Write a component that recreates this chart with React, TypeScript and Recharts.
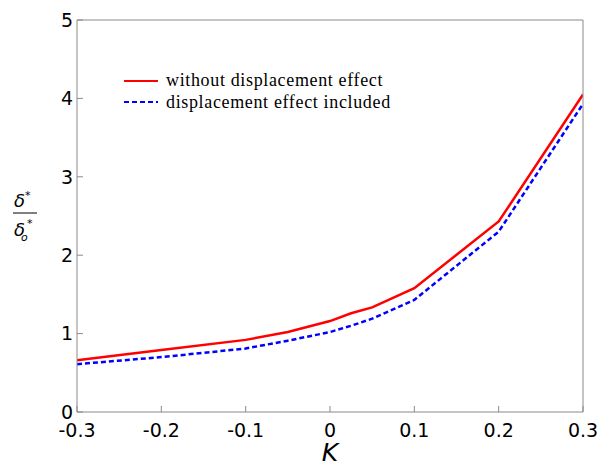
import { LineChart, Line, XAxis, YAxis } from 'recharts';

// K values along the bottom axis
const kValues = [-0.3, -0.2, -0.1, -0.05, 0, 0.025, 0.05, 0.1, 0.2, 0.3];
// delta*/delta_o*
const withoutDisplacement = [0.66, 0.79, 0.92, 1.02, 1.16, 1.26, 1.335, 1.58, 2.43, 4.05];
const displacementIncluded = [0.61, 0.7, 0.81, 0.91, 1.02, 1.1, 1.19, 1.43, 2.3, 3.93];

const xTicks = [-0.3, -0.2, -0.1, 0, 0.1, 0.2, 0.3];
const yTicks = [0, 1, 2, 3, 4, 5];

const seriesNames = ['without displacement effect', 'displacement effect included'];
const seriesColors = ['#ff0000', '#0000ff'];
const seriesDash = ['', '5 3'];

const AXIS = '#8a8a8a';
const TICK_FONT = { fill: '#000', fontSize: 19, fontFamily: 'DejaVu Sans' };

const data = kValues.map((k, i) => ({
  k,
  without: withoutDisplacement[i],
  included: displacementIncluded[i],
}));

function YFraction({ viewBox }: any) {
  const cx = viewBox.x + 8;
  const cy = viewBox.y + viewBox.height / 2 - 3;
  const font = { fontFamily: 'DejaVu Sans', fontStyle: 'italic' as const, fill: '#000' };
  return (
    <g>
      <text x={cx - 11} y={cy - 6} fontSize={18} {...font}>
        δ<tspan fontSize={11} dy={-8}>*</tspan>
      </text>
      <line x1={cx - 12} x2={cx + 12} y1={cy} y2={cy} stroke="#000" strokeWidth={1} />
      <text x={cx - 11} y={cy + 23} fontSize={18} {...font}>
        δ
      </text>
      <text x={cx - 4} y={cy + 28} fontSize={11} {...font}>
        o
      </text>
      <text x={cx + 2} y={cy + 14} fontSize={11} {...font}>
        *
      </text>
    </g>
  );
}

function XLabel({ viewBox }: any) {
  return (
    <text
      x={viewBox.x + viewBox.width / 2}
      y={viewBox.y + 49}
      textAnchor="middle"
      fontSize={25}
      fontFamily="DejaVu Sans"
      fontStyle="italic"
      fill="#000"
    >
      K
    </text>
  );
}

function ChartLegend() {
  return (
    <div
      style={{
        position: 'absolute',
        left: 124,
        top: 70,
        fontFamily: '"Liberation Serif", "Times New Roman", serif',
        fontSize: 18,
        letterSpacing: 0.65,
        lineHeight: '21.5px',
        color: '#000',
      }}
    >
      {seriesNames.map((name, i) => (
        <div key={name} style={{ display: 'flex', alignItems: 'center', whiteSpace: 'nowrap' }}>
          <svg width={42} height={10}>
            <line
              x1={0}
              x2={34}
              y1={5}
              y2={5}
              stroke={seriesColors[i]}
              strokeWidth={2}
              strokeDasharray={seriesDash[i] || undefined}
            />
          </svg>
          <span>{name}</span>
        </div>
      ))}
    </div>
  );
}

export default function App() {
  return (
    <div style={{ position: 'absolute', left: 0, top: 0, width: 600, height: 467, background: '#fff' }}>
      <LineChart width={600} height={467} data={data} margin={{ top: 19, right: 16, left: 17, bottom: 25 }}>
        <XAxis
          dataKey="k"
          type="number"
          domain={[-0.3, 0.3]}
          ticks={xTicks}
          allowDataOverflow
          height={30}
          stroke={AXIS}
          tickSize={-6}
          tickMargin={18}
          tick={TICK_FONT}
          label={<XLabel />}
        />
        <XAxis
          xAxisId="top"
          dataKey="k"
          orientation="top"
          type="number"
          domain={[-0.3, 0.3]}
          ticks={xTicks}
          allowDataOverflow
          height={1}
          stroke={AXIS}
          tickSize={-6}
          tick={false}
        />
        <YAxis
          type="number"
          domain={[0, 5]}
          ticks={yTicks}
          allowDataOverflow
          width={60}
          stroke={AXIS}
          tickSize={-6}
          tickMargin={10}
          tick={TICK_FONT}
          label={<YFraction />}
        />
        <YAxis
          yAxisId="right"
          orientation="right"
          type="number"
          domain={[0, 5]}
          ticks={yTicks}
          allowDataOverflow
          width={1}
          stroke={AXIS}
          tickSize={-6}
          tick={false}
        />
        {/* red curve uses the top/right frame axes (same domains) so they get drawn */}
        <Line
          xAxisId="top"
          yAxisId="right"
          type="linear"
          dataKey="without"
          name={seriesNames[0]}
          stroke={seriesColors[0]}
          strokeWidth={2.5}
          dot={false}
          isAnimationActive={false}
        />
        <Line
          type="linear"
          dataKey="included"
          name={seriesNames[1]}
          stroke={seriesColors[1]}
          strokeWidth={2.5}
          strokeDasharray={seriesDash[1]}
          dot={false}
          isAnimationActive={false}
        />
      </LineChart>
      <ChartLegend />
    </div>
  );
}
